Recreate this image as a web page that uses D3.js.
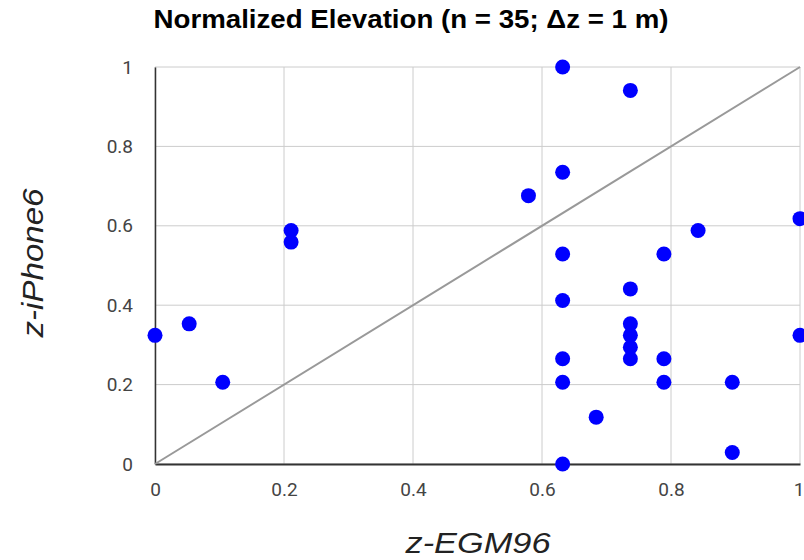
<!DOCTYPE html>
<html>
<head>
<meta charset="utf-8">
<script src="https://cdn.jsdelivr.net/npm/d3@7"></script>
<style>
  body { margin: 0; background: #fff; }
  text { font-family: "Liberation Sans", Arial, sans-serif; }
</style>
</head>
<body>
<div id="chart"></div>
<script>
// normalized elevations
const zEGM96 = [0, 0.053, 0.105, 0.211, 0.211, 0.579,
  0.632, 0.632, 0.632, 0.632, 0.632, 0.632, 0.632,
  0.684,
  0.737, 0.737, 0.737, 0.737, 0.737, 0.737,
  0.789, 0.789, 0.789,
  0.842,
  0.895, 0.895,
  1, 1];
const zIPhone6 = [0.324, 0.353, 0.206, 0.588, 0.559, 0.676,
  1, 0.735, 0.529, 0.412, 0.265, 0.206, 0,
  0.118,
  0.941, 0.441, 0.353, 0.324, 0.294, 0.265,
  0.529, 0.265, 0.206,
  0.588,
  0.206, 0.029,
  0.618, 0.324];
const xTicks = [0, 0.2, 0.4, 0.6, 0.8, 1];
const yTicks = [0, 0.2, 0.4, 0.6, 0.8, 1];

const W = 804, H = 560;
const margin = {top: 67, right: 4, bottom: 96, left: 155};
const width = W - margin.left - margin.right,
  height = H - margin.top - margin.bottom;

const svg = d3.select("#chart").append("svg")
  .attr("width", W).attr("height", H);

const g = svg.append("g")
  .attr("transform", `translate(${margin.left}, ${margin.top})`);

const x = d3.scaleLinear().domain([0, 1]).range([0, width]);
const y = d3.scaleLinear().domain([0, 1]).range([height, 0]);

// grid
g.append("g")
  .selectAll("line.vx")
  .data(xTicks)
  .enter().append("line")
    .attr("x1", d => x(d)).attr("x2", d => x(d))
    .attr("y1", 0).attr("y2", height)
    .attr("stroke", "#cccccc").attr("stroke-width", 1);
g.append("g")
  .selectAll("line.hy")
  .data(yTicks)
  .enter().append("line")
    .attr("x1", 0).attr("x2", width)
    .attr("y1", d => y(d)).attr("y2", d => y(d))
    .attr("stroke", "#cccccc").attr("stroke-width", 1);

// axes
const fmt = d => d3.format("~g")(d);
const xAxis = g.append("g")
  .attr("transform", `translate(0, ${height})`)
  .call(d3.axisBottom(x).tickValues(xTicks).tickSize(0).tickPadding(19).tickFormat(fmt));
xAxis.select(".domain").attr("stroke", "#333").attr("stroke-width", 2);
xAxis.selectAll("text").attr("fill", "#444")
  .style("font-family", "Roboto, sans-serif").style("font-size", "19px");
// keep the last label inside the window
xAxis.selectAll("text").filter(d => d === 1).attr("text-anchor", "end").attr("dx", "4px");

const yAxis = g.append("g")
  .call(d3.axisLeft(y).tickValues(yTicks).tickSize(0).tickPadding(22).tickFormat(fmt));
yAxis.select(".domain").attr("stroke", "#333").attr("stroke-width", 1.5);
yAxis.selectAll("text").attr("fill", "#444")
  .style("font-family", "Roboto, sans-serif").style("font-size", "19px");

// 1:1 line
g.append("line")
  .attr("x1", x(0)).attr("y1", y(0))
  .attr("x2", x(1)).attr("y2", y(1))
  .attr("stroke", "#999999").attr("stroke-width", 2);

// points
g.selectAll("circle")
  .data(zEGM96.map((v, i) => [v, zIPhone6[i]]))
  .enter().append("circle")
    .attr("cx", d => x(d[0]))
    .attr("cy", d => y(d[1]))
    .attr("r", 7.5)
    .attr("fill", "#0000ff");

// title and axis titles
svg.append("text")
  .attr("x", 411).attr("y", 28)
  .attr("text-anchor", "middle")
  .attr("textLength", 515).attr("lengthAdjust", "spacingAndGlyphs")
  .style("font-size", "25px").style("font-weight", "bold")
  .text("Normalized Elevation (n = 35; \u0394z = 1 m)");

svg.append("text")
  .attr("x", 478).attr("y", 553)
  .attr("text-anchor", "middle")
  .attr("textLength", 145).attr("lengthAdjust", "spacingAndGlyphs")
  .style("font-size", "29px").style("font-style", "italic").attr("fill", "#222")
  .text("z-EGM96");

svg.append("text")
  .attr("transform", "translate(43, 263) rotate(-90)")
  .attr("text-anchor", "middle")
  .attr("textLength", 149).attr("lengthAdjust", "spacingAndGlyphs")
  .style("font-size", "29px").style("font-style", "italic").attr("fill", "#222")
  .text("z-iPhone6");
</script>
</body>
</html>
